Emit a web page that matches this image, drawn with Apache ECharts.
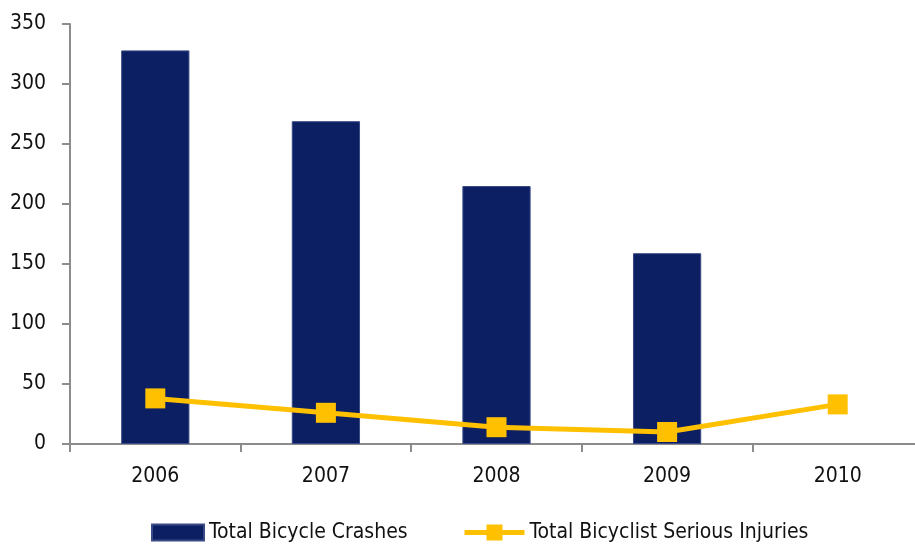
<!DOCTYPE html>
<html>
<head>
<meta charset="utf-8">
<script src="https://cdn.jsdelivr.net/npm/echarts@6/dist/echarts.min.js"></script>
<style>
  html, body { margin: 0; padding: 0; background: #fff; }
  #chart { width: 915px; height: 544px; }
</style>
</head>
<body>
<div id="chart"></div>
<script>
const years = ['2006', '2007', '2008', '2009', '2010'];
const crashes = [328, 269, 215, 159, null];
const injuries = [38, 26, 14, 10, 33];
const yTicks = { min: 0, max: 350, interval: 50 };

const FONT = "'Liberation Sans Narrow', 'Arial Narrow', 'DejaVu Sans Condensed', 'Liberation Sans', sans-serif";
const legendText = { fontFamily: FONT, fontSize: 21, color: '#111' };

const myChart = echarts.init(document.getElementById('chart'));
var option = {
  animation: false,
  textStyle: { fontFamily: FONT },
  grid: { left: 70, width: 853, top: 24, bottom: 100, outerBoundsMode: 'none' },
  legend: [
    {
      bottom: -4,
      left: 146,
      itemWidth: 52,
      itemHeight: 16,
      textStyle: legendText,
      data: [{ name: 'Total Bicycle Crashes', icon: 'rect' }]
    },
    {
      bottom: -4,
      left: 457,
      itemWidth: 60,
      itemHeight: 20,
      itemGap: 0,
      textStyle: legendText,
      data: [{
        name: 'Total Bicyclist Serious Injuries',
        lineStyle: { width: 5, color: '#ffc000' }
      }]
    }
  ],
  xAxis: {
    type: 'category',
    data: years,
    axisLine: { lineStyle: { color: '#8c8c8c', width: 2 } },
    axisTick: { show: true, length: 8, lineStyle: { color: '#8c8c8c', width: 2 } },
    axisLabel: { fontFamily: FONT, fontSize: 21, color: '#111', margin: 22 }
  },
  yAxis: {
    type: 'value',
    min: yTicks.min,
    max: yTicks.max,
    interval: yTicks.interval,
    splitLine: { show: false },
    axisLine: { show: true, lineStyle: { color: '#8c8c8c', width: 2 } },
    axisTick: { show: true, length: 8, lineStyle: { color: '#8c8c8c', width: 2 } },
    axisLabel: { fontFamily: FONT, fontSize: 21, color: '#111', margin: 24 }
  },
  series: [
    {
      name: 'Total Bicycle Crashes',
      type: 'bar',
      data: crashes,
      barWidth: '40%',
      itemStyle: { color: '#0c1f63', borderColor: '#3a4a86', borderWidth: 1 }
    },
    {
      name: 'Total Bicyclist Serious Injuries',
      type: 'line',
      data: injuries,
      symbol: 'rect',
      symbolSize: 20,
      lineStyle: { color: '#ffc000', width: 5 },
      itemStyle: { color: '#ffc000' }
    }
  ]
};
myChart.setOption(option);
</script>
</body>
</html>
